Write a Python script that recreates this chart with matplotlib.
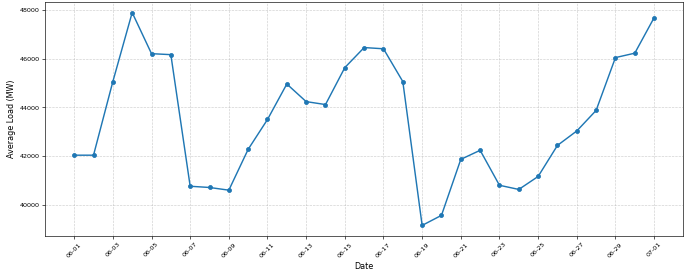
import matplotlib
matplotlib.use("Agg")
import matplotlib.pyplot as plt
import matplotlib.dates as mdates
import numpy as np
import pandas as pd

dates = pd.date_range("2024-06-01", "2024-07-01", freq="D")
avg_load = [42050, 42050, 45060, 47880, 46200, 46160, 40780, 40730, 40620, 42290,
            43510, 44960, 44240, 44120, 45630, 46450, 46400, 45060, 39180, 39590,
            41880, 42250, 40820, 40650, 41180, 42450, 43040, 43880, 46040, 46220,
            47670]

fig = plt.figure(figsize=(12, 4.87), dpi=57.5)
ax = fig.add_axes([0.0655, 0.157, 0.9245, 0.836])

ax.plot(dates, avg_load, marker='o', markersize=5, color='#1f77b4', linewidth=1.8)
ax.set_title('Daily Average Load (June - July)', fontsize=12, pad=8)
ax.set_xlabel('Date', fontsize=10)
ax.set_ylabel('Average Load (MW)', fontsize=10)

ax.xaxis.set_major_locator(mdates.DayLocator(interval=2))
ax.xaxis.set_major_formatter(mdates.DateFormatter('%m-%d'))
ax.tick_params(axis='x', labelrotation=45, labelsize=8)
ax.tick_params(axis='y', labelsize=8)
ax.grid(True, linestyle='--', alpha=0.6)

plt.savefig('out.png', dpi=57.5)
